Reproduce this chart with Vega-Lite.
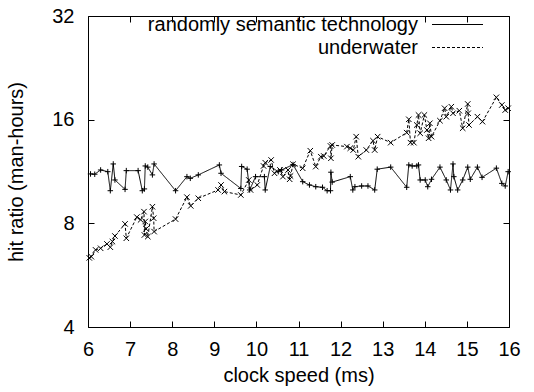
{
  "$schema": "https://vega.github.io/schema/vega-lite/v6.json",
  "width": 421,
  "height": 311,
  "autosize": {"type": "none"},
  "padding": {"left": 88, "top": 16, "right": 25, "bottom": 65},
  "background": "white",
  "config": {
    "view": {"stroke": "black", "strokeWidth": 1},
    "font": "Liberation Sans",
    "axis": {"domain": false, "grid": false, "tickColor": "black", "tickSize": -6, "labelColor": "black", "labelFont": "Liberation Sans", "labelFontSize": 20, "labelFlush": false, "labelOverlap": false, "titleFont": "Liberation Sans", "titleFontSize": 20, "titleFontWeight": "normal", "titleColor": "black"}
  },
  "datasets": {
    "series": [
      {"s": "randomly semantic technology", "x": 6.06, "y": 11.13},
      {"s": "randomly semantic technology", "x": 6.16, "y": 11.11},
      {"s": "randomly semantic technology", "x": 6.30, "y": 11.43},
      {"s": "randomly semantic technology", "x": 6.47, "y": 11.30},
      {"s": "randomly semantic technology", "x": 6.53, "y": 9.95},
      {"s": "randomly semantic technology", "x": 6.60, "y": 11.9},
      {"s": "randomly semantic technology", "x": 6.64, "y": 10.69},
      {"s": "randomly semantic technology", "x": 6.88, "y": 10.04},
      {"s": "randomly semantic technology", "x": 6.91, "y": 11.38},
      {"s": "randomly semantic technology", "x": 7.19, "y": 11.38},
      {"s": "randomly semantic technology", "x": 7.29, "y": 9.95},
      {"s": "randomly semantic technology", "x": 7.34, "y": 10.07},
      {"s": "randomly semantic technology", "x": 7.36, "y": 11.74},
      {"s": "randomly semantic technology", "x": 7.42, "y": 11.65},
      {"s": "randomly semantic technology", "x": 7.53, "y": 11.06},
      {"s": "randomly semantic technology", "x": 7.57, "y": 11.9},
      {"s": "randomly semantic technology", "x": 8.08, "y": 9.95},
      {"s": "randomly semantic technology", "x": 8.35, "y": 10.93},
      {"s": "randomly semantic technology", "x": 8.43, "y": 10.81},
      {"s": "randomly semantic technology", "x": 8.62, "y": 11.06},
      {"s": "randomly semantic technology", "x": 9.12, "y": 11.82},
      {"s": "randomly semantic technology", "x": 9.16, "y": 11.18},
      {"s": "randomly semantic technology", "x": 9.63, "y": 10.1},
      {"s": "randomly semantic technology", "x": 9.65, "y": 11.7},
      {"s": "randomly semantic technology", "x": 9.78, "y": 11.49},
      {"s": "randomly semantic technology", "x": 9.84, "y": 10.0},
      {"s": "randomly semantic technology", "x": 9.98, "y": 10.93},
      {"s": "randomly semantic technology", "x": 10.19, "y": 10.93},
      {"s": "randomly semantic technology", "x": 10.21, "y": 10.0},
      {"s": "randomly semantic technology", "x": 10.33, "y": 11.7},
      {"s": "randomly semantic technology", "x": 10.52, "y": 11.3},
      {"s": "randomly semantic technology", "x": 10.60, "y": 11.43},
      {"s": "randomly semantic technology", "x": 10.87, "y": 11.85},
      {"s": "randomly semantic technology", "x": 11.10, "y": 10.57},
      {"s": "randomly semantic technology", "x": 11.26, "y": 10.34},
      {"s": "randomly semantic technology", "x": 11.41, "y": 10.22},
      {"s": "randomly semantic technology", "x": 11.57, "y": 10.18},
      {"s": "randomly semantic technology", "x": 11.68, "y": 9.95},
      {"s": "randomly semantic technology", "x": 11.76, "y": 9.95},
      {"s": "randomly semantic technology", "x": 11.77, "y": 11.26},
      {"s": "randomly semantic technology", "x": 11.80, "y": 10.54},
      {"s": "randomly semantic technology", "x": 12.23, "y": 10.93},
      {"s": "randomly semantic technology", "x": 12.29, "y": 10.0},
      {"s": "randomly semantic technology", "x": 12.34, "y": 10.22},
      {"s": "randomly semantic technology", "x": 12.50, "y": 10.27},
      {"s": "randomly semantic technology", "x": 12.65, "y": 10.27},
      {"s": "randomly semantic technology", "x": 12.81, "y": 10.0},
      {"s": "randomly semantic technology", "x": 12.87, "y": 11.49},
      {"s": "randomly semantic technology", "x": 13.19, "y": 11.65},
      {"s": "randomly semantic technology", "x": 13.57, "y": 10.18},
      {"s": "randomly semantic technology", "x": 13.62, "y": 11.82},
      {"s": "randomly semantic technology", "x": 13.70, "y": 11.74},
      {"s": "randomly semantic technology", "x": 13.81, "y": 11.74},
      {"s": "randomly semantic technology", "x": 13.85, "y": 11.82},
      {"s": "randomly semantic technology", "x": 13.89, "y": 10.69},
      {"s": "randomly semantic technology", "x": 14.01, "y": 10.69},
      {"s": "randomly semantic technology", "x": 14.07, "y": 10.22},
      {"s": "randomly semantic technology", "x": 14.16, "y": 10.74},
      {"s": "randomly semantic technology", "x": 14.36, "y": 11.65},
      {"s": "randomly semantic technology", "x": 14.51, "y": 10.69},
      {"s": "randomly semantic technology", "x": 14.61, "y": 10.0},
      {"s": "randomly semantic technology", "x": 14.67, "y": 11.9},
      {"s": "randomly semantic technology", "x": 14.69, "y": 10.93},
      {"s": "randomly semantic technology", "x": 14.78, "y": 10.0},
      {"s": "randomly semantic technology", "x": 14.90, "y": 10.69},
      {"s": "randomly semantic technology", "x": 15.02, "y": 11.65},
      {"s": "randomly semantic technology", "x": 15.08, "y": 10.74},
      {"s": "randomly semantic technology", "x": 15.25, "y": 11.65},
      {"s": "randomly semantic technology", "x": 15.36, "y": 10.88},
      {"s": "randomly semantic technology", "x": 15.70, "y": 11.57},
      {"s": "randomly semantic technology", "x": 15.83, "y": 10.45},
      {"s": "randomly semantic technology", "x": 15.91, "y": 10.27},
      {"s": "randomly semantic technology", "x": 15.98, "y": 11.3},
      {"s": "underwater", "x": 6.03, "y": 6.35},
      {"s": "underwater", "x": 6.08, "y": 6.40},
      {"s": "underwater", "x": 6.18, "y": 6.70},
      {"s": "underwater", "x": 6.30, "y": 6.77},
      {"s": "underwater", "x": 6.45, "y": 6.97},
      {"s": "underwater", "x": 6.53, "y": 6.82},
      {"s": "underwater", "x": 6.58, "y": 7.08},
      {"s": "underwater", "x": 6.64, "y": 7.35},
      {"s": "underwater", "x": 6.88, "y": 7.97},
      {"s": "underwater", "x": 6.91, "y": 7.24},
      {"s": "underwater", "x": 7.16, "y": 8.34},
      {"s": "underwater", "x": 7.25, "y": 8.19},
      {"s": "underwater", "x": 7.33, "y": 8.65},
      {"s": "underwater", "x": 7.34, "y": 7.40},
      {"s": "underwater", "x": 7.36, "y": 8.10},
      {"s": "underwater", "x": 7.38, "y": 7.71},
      {"s": "underwater", "x": 7.42, "y": 7.32},
      {"s": "underwater", "x": 7.53, "y": 8.94},
      {"s": "underwater", "x": 7.56, "y": 8.28},
      {"s": "underwater", "x": 7.57, "y": 7.57},
      {"s": "underwater", "x": 8.08, "y": 8.23},
      {"s": "underwater", "x": 8.35, "y": 9.53},
      {"s": "underwater", "x": 8.44, "y": 8.99},
      {"s": "underwater", "x": 8.62, "y": 9.46},
      {"s": "underwater", "x": 9.09, "y": 10.0},
      {"s": "underwater", "x": 9.16, "y": 10.34},
      {"s": "underwater", "x": 9.24, "y": 9.89},
      {"s": "underwater", "x": 9.63, "y": 9.67},
      {"s": "underwater", "x": 9.82, "y": 10.69},
      {"s": "underwater", "x": 9.86, "y": 10.0},
      {"s": "underwater", "x": 10.02, "y": 10.34},
      {"s": "underwater", "x": 10.17, "y": 11.74},
      {"s": "underwater", "x": 10.21, "y": 12.0},
      {"s": "underwater", "x": 10.35, "y": 12.22},
      {"s": "underwater", "x": 10.43, "y": 11.18},
      {"s": "underwater", "x": 10.56, "y": 11.43},
      {"s": "underwater", "x": 10.63, "y": 10.93},
      {"s": "underwater", "x": 10.75, "y": 11.43},
      {"s": "underwater", "x": 10.79, "y": 10.74},
      {"s": "underwater", "x": 10.81, "y": 10.98},
      {"s": "underwater", "x": 10.87, "y": 11.88},
      {"s": "underwater", "x": 11.10, "y": 11.56},
      {"s": "underwater", "x": 11.28, "y": 13.0},
      {"s": "underwater", "x": 11.41, "y": 11.69},
      {"s": "underwater", "x": 11.53, "y": 12.49},
      {"s": "underwater", "x": 11.60, "y": 12.55},
      {"s": "underwater", "x": 11.76, "y": 13.42},
      {"s": "underwater", "x": 11.77, "y": 12.36},
      {"s": "underwater", "x": 11.80, "y": 13.51},
      {"s": "underwater", "x": 12.15, "y": 13.36},
      {"s": "underwater", "x": 12.23, "y": 13.22},
      {"s": "underwater", "x": 12.30, "y": 13.06},
      {"s": "underwater", "x": 12.37, "y": 14.28},
      {"s": "underwater", "x": 12.42, "y": 12.49},
      {"s": "underwater", "x": 12.61, "y": 13.06},
      {"s": "underwater", "x": 12.77, "y": 13.90},
      {"s": "underwater", "x": 12.81, "y": 13.06},
      {"s": "underwater", "x": 12.88, "y": 14.28},
      {"s": "underwater", "x": 13.19, "y": 13.72},
      {"s": "underwater", "x": 13.57, "y": 14.67},
      {"s": "underwater", "x": 13.62, "y": 16.04},
      {"s": "underwater", "x": 13.66, "y": 13.72},
      {"s": "underwater", "x": 13.74, "y": 13.72},
      {"s": "underwater", "x": 13.81, "y": 15.44},
      {"s": "underwater", "x": 13.85, "y": 16.51},
      {"s": "underwater", "x": 13.89, "y": 14.61},
      {"s": "underwater", "x": 13.99, "y": 16.51},
      {"s": "underwater", "x": 14.05, "y": 14.93},
      {"s": "underwater", "x": 14.09, "y": 14.13},
      {"s": "underwater", "x": 14.12, "y": 15.62},
      {"s": "underwater", "x": 14.16, "y": 14.28},
      {"s": "underwater", "x": 14.36, "y": 15.89},
      {"s": "underwater", "x": 14.47, "y": 17.27},
      {"s": "underwater", "x": 14.51, "y": 16.32},
      {"s": "underwater", "x": 14.63, "y": 17.45},
      {"s": "underwater", "x": 14.67, "y": 16.70},
      {"s": "underwater", "x": 14.82, "y": 16.99},
      {"s": "underwater", "x": 14.90, "y": 15.11},
      {"s": "underwater", "x": 15.02, "y": 17.77},
      {"s": "underwater", "x": 15.03, "y": 16.70},
      {"s": "underwater", "x": 15.05, "y": 15.44},
      {"s": "underwater", "x": 15.25, "y": 16.32},
      {"s": "underwater", "x": 15.37, "y": 15.79},
      {"s": "underwater", "x": 15.70, "y": 18.58},
      {"s": "underwater", "x": 15.83, "y": 17.65},
      {"s": "underwater", "x": 15.91, "y": 17.06},
      {"s": "underwater", "x": 15.98, "y": 17.27}
    ]
  },
  "data": {"name": "series"},
  "resolve": {"axis": {"x": "independent", "y": "independent"}},
  "layer": [
    {
      "mark": {"type": "line", "color": "black", "strokeWidth": 1},
      "encoding": {
        "x": {"field": "x", "type": "quantitative", "scale": {"domain": [6, 16], "nice": false, "zero": false},
              "axis": {"orient": "bottom", "values": [6,7,8,9,10,11,12,13,14,15,16], "format": "d", "labelPadding": 18, "title": "clock speed (ms)", "titlePadding": 6}},
        "y": {"field": "y", "type": "quantitative", "scale": {"type": "log", "base": 2, "domain": [4, 32], "nice": false},
              "axis": {"orient": "left", "values": [4, 8, 16, 32], "format": "d", "labelPadding": 20, "title": "hit ratio (man-hours)", "titlePadding": 25}},
        "strokeDash": {"field": "s", "type": "nominal", "sort": ["randomly semantic technology", "underwater"],
          "scale": {"domain": ["randomly semantic technology", "underwater"], "range": [[1, 0], [3, 2]]},
          "legend": {"title": null, "orient": "none", "legendX": 359, "legendY": -2, "labelFontSize": 20, "labelFont": "Liberation Sans", "labelColor": "black", "labelLimit": 0, "symbolType": "M-2.55,0L2.55,0", "symbolSize": 400, "symbolStrokeColor": "black", "symbolStrokeWidth": 1, "labelAlign": "right", "labelOffset": -50, "rowPadding": 2, "padding": 0}}
      }
    },
    {
      "transform": [{"filter": "datum.s === 'randomly semantic technology'"}],
      "mark": {"type": "point", "filled": false, "color": "black", "strokeWidth": 1, "size": 30, "opacity": 1, "shape": "M-1,0L1,0M0,-1L0,1"},
      "encoding": {
        "x": {"field": "x", "type": "quantitative", "axis": {"orient": "top", "values": [6,7,8,9,10,11,12,13,14,15,16], "labels": false, "title": null}},
        "y": {"field": "y", "type": "quantitative", "axis": {"orient": "right", "values": [4, 8, 16, 32], "labels": false, "title": null}}
      }
    },
    {
      "transform": [{"filter": "datum.s === 'underwater'"}],
      "mark": {"type": "point", "filled": false, "color": "black", "strokeWidth": 1, "size": 30, "opacity": 1, "shape": "M-1,-1L1,1M-1,1L1,-1"},
      "encoding": {
        "x": {"field": "x", "type": "quantitative", "axis": null},
        "y": {"field": "y", "type": "quantitative", "axis": null}
      }
    }
  ]
}
